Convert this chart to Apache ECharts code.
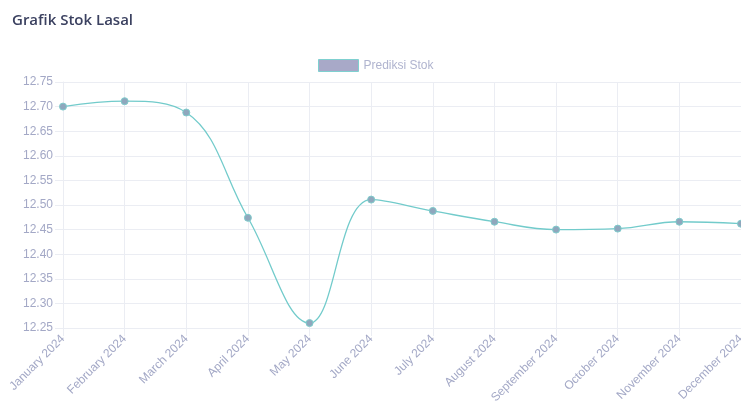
<!DOCTYPE html>
<html>
<head>
<meta charset="utf-8">
<script src="https://cdn.jsdelivr.net/npm/echarts@6/dist/echarts.min.js"></script>
<style>
  html, body { margin: 0; padding: 0; background: #fff; }
  #chart { width: 741px; height: 401px; }
</style>
</head>
<body>
<div id="chart"></div>
<script>
// data
const months = ['January 2024', 'February 2024', 'March 2024', 'April 2024', 'May 2024', 'June 2024',
  'July 2024', 'August 2024', 'September 2024', 'October 2024', 'November 2024', 'December 2024'];
const stok = [12.700, 12.711, 12.688, 12.474, 12.260, 12.511, 12.488, 12.466, 12.450, 12.452, 12.466, 12.462];
const yMin = 12.25, yMax = 12.75, yStep = 0.05;

const labelColor = '#a3a8c6';
const gridColor = '#ebedf3';

const myChart = echarts.init(document.getElementById('chart'));
myChart.setOption({
  animation: false,
  backgroundColor: '#fff',
  title: {
    text: 'Grafik Stok Lasal',
    left: 7,
    top: 8,
    textStyle: { fontFamily: 'Open Sans', fontSize: 15, fontWeight: 600, color: '#3b4160' }
  },
  legend: {
    top: 54,
    left: 313,
    itemWidth: 40,
    itemHeight: 12,
    itemGap: 6,
    icon: 'rect',
    textStyle: { fontFamily: 'Liberation Sans', fontSize: 12, color: '#b0b4cf' },
    data: [{ name: 'Prediksi Stok', itemStyle: { color: '#a8a9c8', borderColor: '#7fd0d0', borderWidth: 1 } }]
  },
  grid: { left: 63, right: 0, top: 82, bottom: 73, containLabel: false, outerBoundsMode: 'none' },
  xAxis: {
    type: 'category',
    data: months,
    boundaryGap: false,
    axisLine: { show: true, lineStyle: { color: gridColor } },
    axisTick: { show: true, length: 8, alignWithLabel: true, lineStyle: { color: gridColor } },
    axisLabel: { rotate: 45, interval: 0, margin: 9, color: labelColor, fontFamily: 'Liberation Sans', fontSize: 12 },
    splitLine: { show: true, lineStyle: { color: gridColor, width: 1 } }
  },
  yAxis: {
    type: 'value',
    min: yMin,
    max: yMax,
    interval: yStep,
    axisLine: { show: true, lineStyle: { color: gridColor } },
    axisTick: { show: true, length: 8, lineStyle: { color: gridColor } },
    axisLabel: {
      margin: 10, color: labelColor, fontFamily: 'Liberation Sans', fontSize: 12,
      formatter: v => v.toFixed(2)
    },
    splitLine: { show: true, lineStyle: { color: gridColor, width: 1 } }
  },
  series: [{
    name: 'Prediksi Stok',
    type: 'line',
    data: stok,
    smooth: 0.4,
    symbol: 'circle',
    symbolSize: 7,
    showSymbol: true,
    clip: false,
    lineStyle: { color: '#72cbcb', width: 1.3 },
    itemStyle: { color: '#8fa7bd', borderColor: '#7fcccc', borderWidth: 1 }
  }]
});
</script>
</body>
</html>
